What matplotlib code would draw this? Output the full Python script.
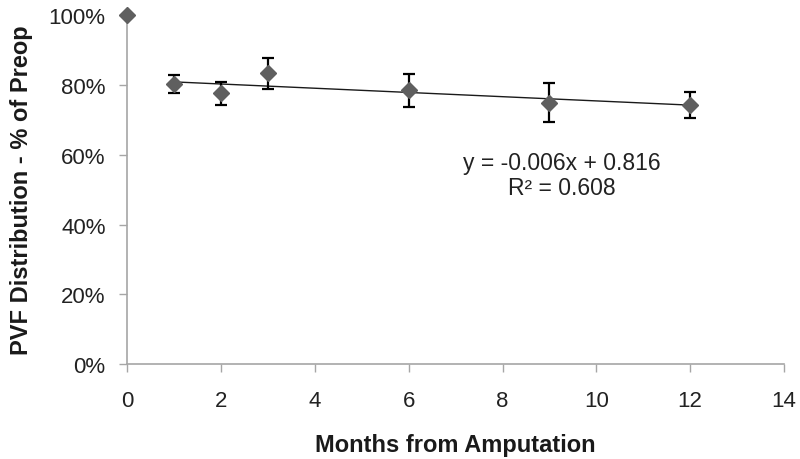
import numpy as np
import matplotlib
matplotlib.use("Agg")
import matplotlib.pyplot as plt
from matplotlib.ticker import FuncFormatter

plt.rcParams['font.family'] = ['Liberation Sans', 'DejaVu Sans']

months = [0, 1, 2, 3, 6, 9, 12]
pvf = [1.000, 0.802, 0.777, 0.834, 0.785, 0.750, 0.743]
err = [None, 0.026, 0.033, 0.045, 0.047, 0.057, 0.038]
x_ticks = [0, 2, 4, 6, 8, 10, 12, 14]
y_ticks = [0, 0.2, 0.4, 0.6, 0.8, 1.0]
eq_text = "y = -0.006x + 0.816\nR\u00b2 = 0.608"

fig = plt.figure(figsize=(8, 4.6), dpi=100)
ax = fig.add_axes([0.159, 0.2065, 0.821, 0.758])

# trendline on post-op points
xs = np.array(months[1:], dtype=float)
ys = np.array(pvf[1:], dtype=float)
k, b = np.polyfit(xs, ys, 1)
xl = np.array([xs.min(), xs.max()])
ax.plot(xl, k * xl + b, color='#1a1a1a', lw=1.0, zorder=2)

# error bars
ax.errorbar(months[1:], pvf[1:], yerr=err[1:], fmt='none', ecolor='black',
            elinewidth=1.6, capsize=4.3, capthick=1.6, zorder=3)
ax.plot(months, pvf, linestyle='none', marker='D', markersize=8.5,
        color='#5f5f5f', markeredgecolor='#5f5f5f', zorder=4)

ax.set_xlim(0, 14)
ax.set_ylim(0, 1.0)
ax.set_xticks(x_ticks)
ax.set_yticks(y_ticks)
ax.yaxis.set_major_formatter(FuncFormatter(lambda v, p: f"{v*100:.0f}%"))

for s in ['top', 'right']:
    ax.spines[s].set_visible(False)
for s in ['left', 'bottom']:
    ax.spines[s].set_color('#a6a6a6')
    ax.spines[s].set_linewidth(1.2)
ax.tick_params(axis='both', colors='#a6a6a6', labelcolor='#222222',
               labelsize=16, length=5.5, width=1.0, direction='out')
ax.tick_params(axis='x', pad=13)
ax.tick_params(axis='y', pad=10)
for l in ax.lines:
    l.set_clip_on(False)
for c in ax.collections:
    c.set_clip_on(False)

ax.set_xlabel("Months from Amputation", fontsize=17, fontweight='bold',
              color='#1a1a1a', labelpad=16)
ax.set_ylabel("PVF Distribution - % of Preop", fontsize=17, fontweight='bold',
              color='#1a1a1a', labelpad=11)

ax.text(9.26, 0.543, eq_text, ha='center', va='center', fontsize=16.5,
        color='#222222', linespacing=1.12)

fig.savefig("out.png", dpi=100)
